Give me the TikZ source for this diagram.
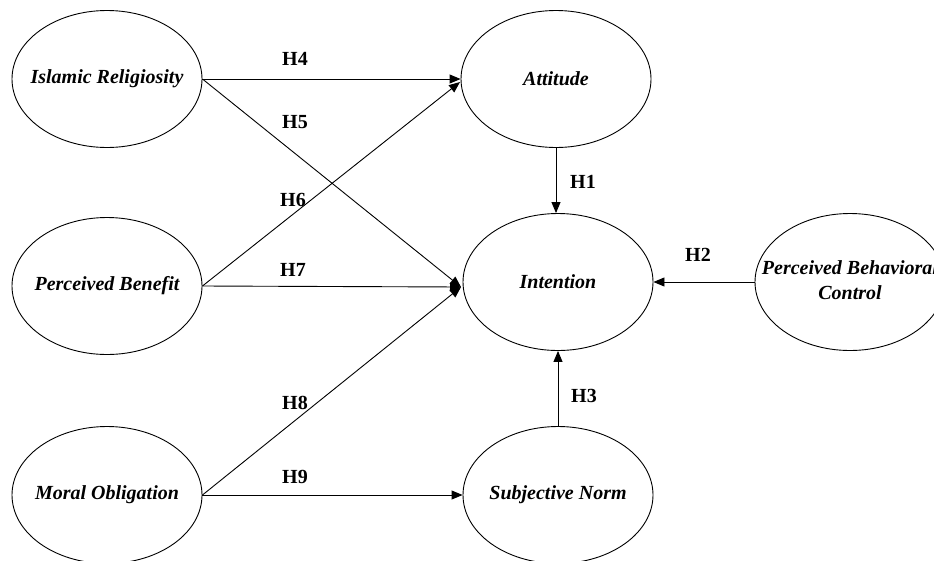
\documentclass[tikz,border=0pt]{standalone}
\usepackage{fontspec}
\setmainfont{Liberation Serif}
\usetikzlibrary{shapes.geometric,arrows.meta}
\newcommand{\ctext}[1]{\makebox[0pt]{#1}}
\begin{document}
\begin{tikzpicture}[x=1pt,y=-1pt,
  construct/.style={draw, ellipse, line width=0.9pt, minimum width=190pt, minimum height=137pt, inner sep=0pt, font=\fontsize{20}{25}\selectfont\bfseries\itshape},
  hlabel/.style={font=\fontsize{20}{24}\selectfont\bfseries, inner sep=0pt},
  link/.style={line width=0.9pt, -{Triangle[length=11pt,width=9pt]}}]
\useasboundingbox[fill=white] (0,0) rectangle (934,560);
\node[construct] (ir) at (107,79) {\ctext{Islamic Religiosity}};
\node[construct] (att) at (556,79) {\ctext{Attitude}};
\node[construct] (int) at (558,282) {\ctext{Intention}};
\node[construct] (pb) at (107,286) {\ctext{Perceived Benefit}};
\node[construct] (mo) at (107,495) {\ctext{Moral Obligation}};
\node[construct] (sn) at (558,495) {\ctext{Subjective Norm}};
\node[construct] (pbc) at (850,282) {\ctext{\begin{tabular}{@{}c@{}}Perceived Behavioral\\Control\end{tabular}}};
\coordinate (cv) at (461,287);
\coordinate (av) at (460,82);
\draw[link] (ir.east) -- (att.west);
\draw[link] (ir.east) -- (cv);
\draw[link] (pb.east) -- (av);
\draw[link] (pb.east) -- (cv);
\draw[link] (mo.east) -- (cv);
\draw[link] (mo.east) -- (sn.west);
\draw[link] (att.south) -- (att.south |- int.north);
\draw[link] (pbc.west) -- (int.east);
\draw[link] (sn.north) -- (int.south);
\node[hlabel] (h4) at (295,59) {H4};
\node[hlabel] (h5) at (295,122) {H5};
\node[hlabel] (h6) at (293,200) {H6};
\node[hlabel] (h7) at (293,270) {H7};
\node[hlabel] (h8) at (295,403) {H8};
\node[hlabel] (h9) at (295,477) {H9};
\node[hlabel] (h1) at (583,182) {H1};
\node[hlabel] (h2) at (698,255) {H2};
\node[hlabel] (h3) at (584,396) {H3};
\end{tikzpicture}
\end{document}
